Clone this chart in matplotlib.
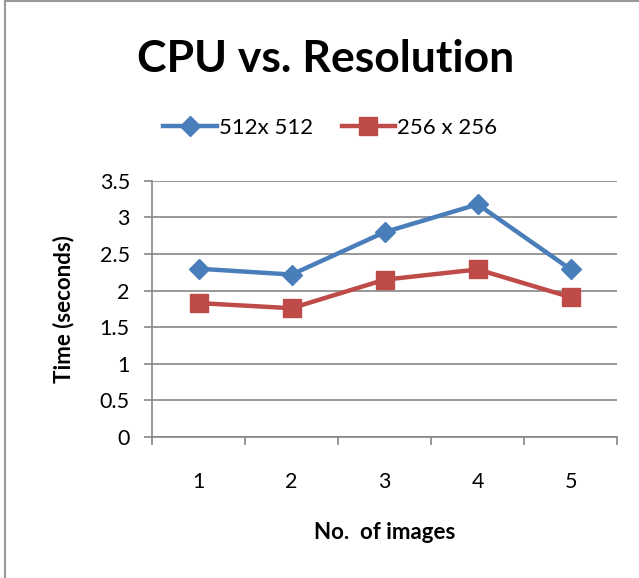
import matplotlib
matplotlib.use("Agg")
import matplotlib.pyplot as plt
from matplotlib.lines import Line2D
import numpy as np

plt.rcParams['font.family'] = ['Lato', 'DejaVu Sans']

# data
categories = ["1", "2", "3", "4", "5"]
res_512 = [2.30, 2.22, 2.80, 3.18, 2.29]
res_256 = [1.83, 1.76, 2.15, 2.29, 1.91]
series_names = ["512x 512", "256 x 256"]
yticks = [0, 0.5, 1, 1.5, 2, 2.5, 3, 3.5]

grey = "#868686"

fig = plt.figure(figsize=(6.39, 5.78), dpi=100)
ax = fig.add_axes([0.238, 0.244, 0.728, 0.443])

x = np.arange(len(categories))
ax.plot(x, res_512, color="#4A7EBB", lw=3.2, marker="D", ms=10, label=series_names[0])
ax.plot(x, res_256, color="#BE4B48", lw=3.2, marker="s", ms=13, label=series_names[1])

ax.set_xlim(-0.5, len(categories) - 0.5)
ax.set_ylim(0, 3.5)
ax.set_yticks(yticks)
ax.set_yticklabels([f"{v:g}" for v in yticks])
ax.yaxis.grid(True, color=grey, lw=1.2)
ax.set_axisbelow(True)

# category labels centred, tick marks between categories
ax.set_xticks(x)
ax.set_xticklabels(categories)
ax.set_xticks(np.arange(-0.5, len(categories)), minor=True)
ax.tick_params(axis="x", which="major", length=0, pad=25, labelsize=15.5)
ax.tick_params(axis="x", which="minor", length=6, width=1.2, color=grey, direction="out")
ax.tick_params(axis="y", length=6, width=1.2, color=grey, labelsize=15.5, pad=10)

for s in ["top", "right"]:
    ax.spines[s].set_visible(False)
for s in ["left", "bottom"]:
    ax.spines[s].set_color(grey)
    ax.spines[s].set_linewidth(1.2)

ax.set_xlabel("No.  of images", fontsize=16, fontweight="bold", labelpad=22)
ax.set_ylabel("Time (seconds)", fontsize=16, fontweight="bold", labelpad=18)

fig.text(0.509, 0.898, "CPU vs. Resolution", ha="center", va="center",
         fontsize=32, fontweight="bold")
fig.legend(loc="center", bbox_to_anchor=(0.517, 0.779), ncol=2, frameon=False,
           fontsize=16, handlelength=2.4, columnspacing=1.3, handletextpad=0.1)

# outer chart frame (left and top visible)
fig.add_artist(Line2D([0.008, 0.008], [0, 0.998], transform=fig.transFigure, color="#999999", lw=1.5))
fig.add_artist(Line2D([0.008, 1], [0.998, 0.998], transform=fig.transFigure, color="#999999", lw=1.5))

fig.savefig("out.png", dpi=100)
